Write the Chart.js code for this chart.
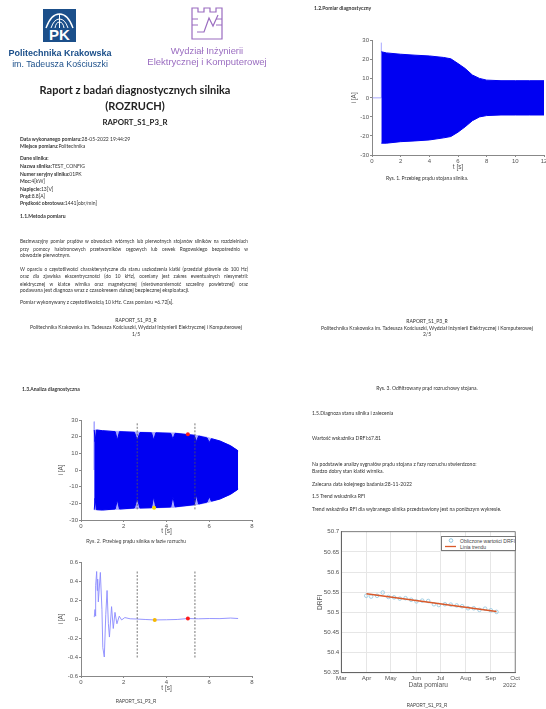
<!DOCTYPE html>
<html lang="pl">
<head>
<meta charset="utf-8">
<title>Raport z badań diagnostycznych silnika</title>
<script src="https://cdn.jsdelivr.net/npm/chart.js@4/dist/chart.umd.min.js"></script>
<style>
html,body{margin:0;padding:0;background:#fff;overflow:hidden;width:546px;height:709px}
#page{position:relative;width:546px;height:709px;overflow:hidden;filter:blur(.45px);font-family:Lato,"Liberation Sans",sans-serif;font-size:5.05px;color:#333}
#page canvas{position:absolute}
.t{position:absolute;white-space:nowrap;line-height:1;transform:translateY(-50%)}
.c{transform:translate(-50%,-50%)}
.b{font-weight:700}
.j{position:absolute;left:20px;width:228px;font-size:4.75px;line-height:1;transform:translateY(-50%);text-align:justify;text-align-last:justify;white-space:normal}
.leg{position:absolute;left:441px;top:536px;width:75px;height:15px;box-sizing:border-box;border:1px solid #777;background:#fff;font-family:"Liberation Sans",sans-serif;font-size:5px;color:#444}
</style>
</head>
<body>
<div id="page">
  <!-- logotypy -->
  <svg style="position:absolute;left:43px;top:9px" width="33" height="33" viewBox="0 0 33 33">
    <rect width="33" height="33" fill="#1b4f8a"/>
    <path d="M3 19Q8 5 16.5 5T30 19" fill="none" stroke="#fff" stroke-width="1.4"/>
    <path d="M8 19Q11 10 16.5 10T25 19M12 19Q13 13 16.5 13T21 19M16.5 5V19" fill="none" stroke="#fff" stroke-width="1"/>
    <text x="16.5" y="31" text-anchor="middle" font-family="Liberation Sans" font-weight="700" font-size="15" fill="#fff">PK</text>
  </svg>
  <div class="t c b" style="left:60px;top:53px;font-family:'Liberation Sans';font-size:9px;color:#1b4f8a">Politechnika Krakowska</div>
  <div class="t c" style="left:60px;top:63.5px;font-family:'Liberation Sans';font-size:8.8px;color:#1b4f8a">im. Tadeusza Kościuszki</div>
  <svg style="position:absolute;left:190px;top:6px" width="34" height="34" viewBox="0 0 34 34">
    <path d="M2 33V2H8V6H14V2H20V6H26V2H32V33Z" fill="none" stroke="#9a6cc0" stroke-width="1.2"/>
    <path d="M7 26L14 26L19 12L23 20L28 9" fill="none" stroke="#9a6cc0" stroke-width="1.2"/>
    <path d="M2 13H8M2 19H8M26 13H32M26 19H32" stroke="#9a6cc0" stroke-width="1"/>
  </svg>
  <div class="t c" style="left:207px;top:50.5px;font-family:'Liberation Sans';font-size:9.4px;color:#9a6cc0">Wydział Inżynierii</div>
  <div class="t c" style="left:207px;top:62px;font-family:'Liberation Sans';font-size:9.5px;color:#9a6cc0">Elektrycznej i Komputerowej</div>

  <!-- strona 1 -->
  <div class="t c b" style="left:135px;top:89px;font-size:11px;color:#222">Raport z badań diagnostycznych silnika</div>
  <div class="t c b" style="left:135px;top:105px;font-size:11px;color:#222">(ROZRUCH)</div>
  <div class="t c b" style="left:135px;top:123px;font-size:7.8px;color:#222">RAPORT_S1_P3_R</div>
  <div class="t b" style="left:20px;top:139.5px">Data wykonanego pomiaru:<span style="font-weight:400">28-05-2022 19:44:29</span></div>
  <div class="t b" style="left:20px;top:147px">Miejsce pomiaru:<span style="font-weight:400">Politechnika</span></div>
  <div class="t b" style="left:20px;top:159px">Dane silnika:</div>
  <div class="t b" style="left:20px;top:166.5px">Nazwa silnika:<span style="font-weight:400">TEST_CONFIG</span></div>
  <div class="t b" style="left:20px;top:174.5px">Numer seryjny silnika:<span style="font-weight:400">01PK</span></div>
  <div class="t b" style="left:20px;top:182px">Moc:<span style="font-weight:400">4[kW]</span></div>
  <div class="t b" style="left:20px;top:189.5px">Napięcie:<span style="font-weight:400">13[V]</span></div>
  <div class="t b" style="left:20px;top:197px">Prąd:<span style="font-weight:400">8.8[A]</span></div>
  <div class="t b" style="left:20px;top:204px">Prędkość obrotowa:<span style="font-weight:400">1441[obr/min]</span></div>
  <div class="t b" style="left:20px;top:216.5px">1.1.Metoda pomiaru</div>
  <div class="j" style="top:241px">Bezinwazyjny pomiar prądów w obwodach wtórnych lub pierwotnych stojanów silników na rozdzielniach</div>
  <div class="j" style="top:248.5px">przy pomocy halotronowych przetworników cęgowych lub cewek Rogowskiego bezpośrednio w</div>
  <div class="t" style="left:20px;top:256px">obwodzie pierwotnym.</div>
  <div class="j" style="top:268.5px">W oparciu o częstotliwości charakterystyczne dla stanu uszkodzenia klatki (przedział głównie do 100 Hz)</div>
  <div class="j" style="top:276px">oraz dla zjawiska ekscentryczności (do 10 kHz), oceniany jest zakres ewentualnych niesymetrii:</div>
  <div class="j" style="top:283.5px">elektrycznej w klatce wirnika oraz magnetycznej (nierównomierność szczeliny powietrznej) oraz</div>
  <div class="t" style="left:20px;top:291px">podawana jest diagnoza wraz z czasokresem dalszej bezpiecznej eksploatacji.</div>
  <div class="t" style="left:20px;top:303px">Pomiar wykonywany z częstotliwością 10 kHz. Czas pomiaru =6.72[s].</div>
  <div class="t c" style="left:136px;top:320.5px">RAPORT_S1_P3_R</div>
  <div class="t c" style="left:136px;top:328px">Politechnika Krakowska im. Tadeusza Kościuszki, Wydział Inżynierii Elektrycznej i Komputerowej</div>
  <div class="t c" style="left:136px;top:334.5px">1/5</div>

  <!-- strona 2 -->
  <div class="t b" style="left:314px;top:9px">1.2.Pomiar diagnostyczny</div>
  <canvas id="prad" width="208" height="135" style="left:350px;top:36px"></canvas>
  <div class="t c" style="left:427px;top:179px">Rys. 1. Przebieg prądu stojana silnika.</div>
  <div class="t c" style="left:427px;top:321.5px">RAPORT_S1_P3_R</div>
  <div class="t c" style="left:427px;top:328.5px">Politechnika Krakowska im. Tadeusza Kościuszki, Wydział Inżynierii Elektrycznej i Komputerowej</div>
  <div class="t c" style="left:427px;top:335px">2/5</div>

  <!-- strona 3 -->
  <div class="t b" style="left:22px;top:390px">1.3.Analiza diagnostyczna</div>
  <canvas id="rozruch" width="200" height="120" style="left:57px;top:415px"></canvas>
  <div class="t c" style="left:136px;top:542px;font-family:'Liberation Sans';font-size:4.8px">Rys. 2. Przebieg prądu silnika w fazie rozruchu</div>
  <canvas id="filtr" width="200" height="135" style="left:57px;top:557px"></canvas>
  <div class="t c" style="left:136px;top:702px;font-family:'Liberation Sans';font-size:4.5px">RAPORT_S1_P3_R</div>

  <!-- strona 4 -->
  <div class="t c" style="left:427px;top:389px">Rys. 3. Odfiltrowany prąd rozruchowy stojana.</div>
  <div class="t" style="left:312px;top:414px">1.5.Diagnoza stanu silnika i zalecenia</div>
  <div class="t" style="left:312px;top:439px">Wartość wskaźnika DRFI:67.81</div>
  <div class="t" style="left:312px;top:464.5px">Na podstawie analizy sygnałów prądu stojana z fazy rozruchu stwierdzono:</div>
  <div class="t" style="left:312px;top:472px">Bardzo dobry stan klatki wirnika.</div>
  <div class="t" style="left:312px;top:484.5px">Zalecana data kolejnego badania:28-11-2022</div>
  <div class="t" style="left:312px;top:497px">1.5 Trend wskaźnika RFI</div>
  <div class="t" style="left:312px;top:510px">Trend wskaźnika RFI dla wybranego silnika przedstawiony jest na poniższym wykresie.</div>
  <canvas id="trend" width="206" height="165" style="left:316px;top:526px"></canvas>
  <div class="leg">
    <svg width="14" height="13" style="position:absolute;left:1px;top:0"><circle cx="8" cy="3.5" r="1.8" fill="none" stroke="#8fc7e0"/><path d="M2 9.5H13" stroke="#d9592a" stroke-width="1.3"/></svg>
    <span id="leg1" class="t" style="left:18px;top:3.5px"></span>
    <span id="leg2" class="t" style="left:18px;top:9.5px"></span>
  </div>
  <div class="t" style="left:503px;top:685.5px;font-family:'Liberation Sans';font-size:5.8px;color:#555">2022</div>
  <div class="t c" style="left:427px;top:706px;font-family:'Liberation Sans';font-size:4.5px">RAPORT_S1_P3_R</div>
</div>

<script>
// Rys. 1 - obwiednia pradu stojana
const pradT = [0.65, 1, 2, 3, 4, 5, 5.5, 6, 6.5, 7, 7.5, 8, 9, 10, 11, 12];
const pradGora = [24.2, 23.6, 22.9, 22.4, 22, 21.2, 20.5, 18, 15.4, 12, 10.2, 9.3, 9, 9, 9, 9];
const pradDol = [-23.8, -23.8, -23, -22.6, -22.1, -21, -20.3, -18, -15.2, -12, -10, -9.3, -9, -9, -9, -9];
const pradRozruchX = [0.05, 0.65, 0.65];
const pradRozruchY = [0, 0, 29];

// Rys. 2 - prad w fazie rozruchu, jasne wciecia w obwiedni
const rozT = [0.62, 0.66, 0.72, 1, 1.6, 1.7, 1.8, 2.5, 2.63, 2.76, 3.3, 3.4, 3.5, 4.2, 4.3, 4.4, 5.3, 5.4, 5.5, 5.9, 6, 6.1, 6.5, 7, 7.35];
const rozGora = [24, 24, 24, 23.6, 23.2, 23.2, 23.2, 22.8, 22.8, 22.7, 22.5, 22.5, 22.5, 22.2, 22.2, 22.2, 21, 20.8, 20.6, 19.6, 19.2, 18.9, 17.4, 14.6, 11.5];
const rozGoraPelna = [24, 17, 24, 23.6, 23, 18, 23, 22.6, 18, 22.5, 22.3, 18, 22.3, 22, 18.5, 22, 20.8, 17, 20.4, 19.2, 16.5, 18.8, 17.4, 14.5, 11.5];
const rozDol = [-23.8, -23.8, -23.8, -24, -23.6, -23.6, -23.6, -23, -23, -23, -22.8, -22.8, -22.7, -22.4, -22.4, -22.3, -21, -20.8, -20.6, -19.6, -19.2, -18.9, -17.4, -14.6, -11.5];
const rozDolPelna = [-23.8, -17, -23.8, -24, -23.4, -18, -23.4, -22.8, -17, -22.8, -22.6, -16, -22.5, -22.2, -16, -22.1, -20.8, -15, -20.4, -19.2, -16, -18.7, -17.4, -14.5, -11.5];
const znacznikCzerwonyRoz = [5.0, 21.5];
const znacznikZoltyRoz = [3.42, -22.7];

// Rys. 3 - odfiltrowany prad rozruchowy
const filtrT = [0.62, 0.655, 0.67, 0.7, 0.733, 0.76, 0.78, 0.81, 0.905, 0.98, 1.02, 1.09, 1.16, 1.22, 1.28, 1.33, 1.43, 1.51, 1.59, 1.68, 1.79, 1.9, 2.05, 2.3, 2.6, 3, 3.45, 4, 4.5, 5, 5.5, 6, 6.5, 7, 7.35];
const filtrI = [0.02, 0.1, 0.03, 0.35, 0.5, 0.3, 0.42, 0.18, 0.49, 0.1, -0.3, -0.4, 0.05, 0.3, -0.05, -0.19, 0.13, -0.1, 0.07, -0.05, 0.03, -0.01, 0.015, 0.002, 0, -0.005, -0.01, -0.008, -0.005, 0.005, 0.002, 0.005, 0.004, 0.01, 0.005];
const znacznikCzerwonyFiltr = [5.0, 0.005];
const znacznikZoltyFiltr = [3.45, -0.01];

const granicaT = [2.63, 5.33];
const granicaRoz = [28, -24];
const granicaFiltr = [0.5, -0.42];

// Trend DRFI - dzien roku 2022
const miesiaceDni = [60, 91, 121, 152, 182, 213, 244, 274];
const miesiaceNazwy = ['Mar', 'Apr', 'May', 'Jun', 'Jul', 'Aug', 'Sep', 'Oct'];
const trendDni = [90.7, 96.7, 104, 111, 118, 125, 132, 139, 146, 152.5, 159.6, 167, 174, 180, 187.5, 194.7, 202, 208.7, 216, 223, 230, 237, 244, 251];
const trendDrfi = [50.541, 50.539, 50.541, 50.549, 50.538, 50.537, 50.534, 50.535, 50.531, 50.527, 50.529, 50.528, 50.52, 50.518, 50.52, 50.519, 50.517, 50.515, 50.51, 50.51, 50.506, 50.509, 50.505, 50.501];
const liniaTrenduX = [91, 251];
const liniaTrenduY = [50.546, 50.502];
const legendaNazwy = ['Obliczone wartości DRFI', 'Linia trendu'];

document.getElementById('leg1').textContent = legendaNazwy[0];
document.getElementById('leg2').textContent = legendaNazwy[1];

Chart.defaults.animation = false;
Chart.defaults.font.family = '"Liberation Sans", sans-serif';
Chart.defaults.font.size = 6;
Chart.defaults.color = '#555';

const BLUE = '#0000f2';
const LIGHT = '#a9a9ff';

const pts = (xs, ys) => xs.map((x, i) => ({x: x, y: ys[i]}));

function ds(xs, ys, color, extra) {
    return Object.assign({
        type: 'line',
        data: pts(xs, ys),
        borderColor: color,
        backgroundColor: color,
        borderWidth: 1,
        pointRadius: 0,
        tension: 0,
        fill: false
    }, extra || {});
}

function dashed(t, ys) {
    return ds([t, t], ys, '#555', {borderDash: [2, 1.5], order: 0, borderWidth: 0.8});
}

function marker(p, color) {
    return ds([p[0]], [p[1]], color, {pointRadius: 2, pointBackgroundColor: color, pointBorderWidth: 0, order: -1});
}

// os jak w octave: tylko lewa i dolna, stale rozmiary zeby trafic w obszar wykresu
function axisX(min, max, step, boxH) {
    return {
        type: 'linear', min: min, max: max,
        ticks: {stepSize: step, maxRotation: 0, padding: 1, autoSkip: false},
        grid: {drawOnChartArea: false, tickLength: 2, color: '#888'},
        border: {color: '#888'},
        title: {display: true, text: 't [s]', padding: 0, font: {size: 6.5}},
        afterFit: s => { s.height = boxH; }
    };
}

function axisY(min, max, step, boxW) {
    return {
        min: min, max: max,
        ticks: {stepSize: step, padding: 1, autoSkip: false},
        grid: {drawOnChartArea: false, tickLength: 2, color: '#888'},
        border: {color: '#888'},
        title: {display: true, text: 'i [A]', padding: 0, font: {size: 6.5}},
        afterFit: s => { s.width = boxW; }
    };
}

function makeChart(id, datasets, scales, padding, plugins) {
    return new Chart(document.getElementById(id), {
        type: 'line',
        data: {datasets: datasets},
        options: {
            responsive: false,
            layout: {padding: padding},
            scales: scales,
            plugins: {legend: {display: false}, tooltip: {enabled: false}}
        },
        plugins: plugins || []
    });
}

makeChart('prad', [
    ds(pradRozruchX, pradRozruchY, LIGHT, {order: 3}),
    ds(pradT, pradGora, BLUE, {order: 2}),
    ds(pradT, pradDol, BLUE, {order: 1, fill: '-1'})
], {x: axisX(0, 12, 2, 16), y: axisY(-30, 30, 10, 22)}, {top: 4.7, right: 14, left: 0, bottom: 0});

makeChart('rozruch', [
    ds([0.62, 0.62], [29, 0], LIGHT, {order: 7}),
    ds(rozT, rozGora, LIGHT, {order: 6}),
    ds(rozT, rozDol, LIGHT, {order: 5, fill: '-1'}),
    ds(rozT, rozGoraPelna, BLUE, {order: 4}),
    ds(rozT, rozDolPelna, BLUE, {order: 3, fill: '-1'}),
    dashed(granicaT[0], granicaRoz),
    dashed(granicaT[1], granicaRoz),
    marker(znacznikCzerwonyRoz, '#ff1a1a'),
    marker(znacznikZoltyRoz, '#f5d800')
], {x: axisX(0, 8, 2, 15), y: axisY(-30, 30, 10, 24)}, {top: 5, right: 5, left: 0, bottom: 0});

makeChart('filtr', [
    ds(filtrT, filtrI, '#8a8aff', {order: 3, borderWidth: 0.9}),
    dashed(granicaT[0], granicaFiltr),
    dashed(granicaT[1], granicaFiltr),
    marker(znacznikCzerwonyFiltr, '#ff1a1a'),
    marker(znacznikZoltyFiltr, '#f5b800')
], {x: axisX(0, 8, 2, 16), y: axisY(-0.6, 0.6, 0.2, 24)}, {top: 5, right: 5, left: 0, bottom: 0});

// ramka wokol wykresu trendu
const ramka = {
    id: 'ramka',
    afterDraw(chart) {
        const a = chart.chartArea, c = chart.ctx;
        c.save();
        c.strokeStyle = '#666';
        c.lineWidth = 0.8;
        c.strokeRect(a.left, a.top, a.right - a.left, a.bottom - a.top);
        c.restore();
    }
};

makeChart('trend', [
    ds(liniaTrenduX, liniaTrenduY, '#d9592a', {order: 1, borderWidth: 1.4}),
    ds(trendDni, trendDrfi, '#8fc7e0', {
        order: 2, showLine: false, pointRadius: 1.8, pointStyle: 'circle',
        pointBackgroundColor: 'rgba(0,0,0,0)', pointBorderColor: '#8fc7e0', pointBorderWidth: 0.8
    })
], {
    x: {
        type: 'linear', min: 60, max: 274,
        afterBuildTicks: s => { s.ticks = miesiaceDni.map(v => ({value: v})); },
        ticks: {
            maxRotation: 0, padding: 2, autoSkip: false, font: {size: 6.2},
            callback: v => miesiaceNazwy[miesiaceDni.indexOf(v)]
        },
        grid: {color: '#e6e6e6', tickLength: 0},
        border: {color: '#666'},
        title: {display: true, text: 'Data pomiaru', padding: 0, font: {size: 6.6}},
        afterFit: s => { s.height = 16.3; }
    },
    y: {
        min: 50.35, max: 50.7,
        ticks: {
            stepSize: 0.05, padding: 2, autoSkip: false, font: {size: 6.2},
            callback: v => +v.toFixed(2)
        },
        grid: {color: '#e6e6e6', tickLength: 0},
        border: {color: '#666'},
        title: {display: true, text: 'DRFI', padding: 0, font: {size: 6.6}},
        afterFit: s => { s.width = 25.3; }
    }
}, {top: 5, right: 1.7, left: 0, bottom: 2}, [ramka]);
</script>
</body>
</html>
